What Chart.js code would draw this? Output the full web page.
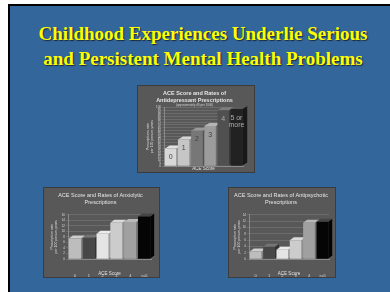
<!DOCTYPE html>
<html lang="en">
<head>
  <meta charset="UTF-8">
  <title>Childhood Experiences Underlie Serious and Persistent Mental Health Problems</title>
  <script src="https://cdn.jsdelivr.net/npm/chart.js"></script>
  <style>
    html, body { margin: 0; padding: 0; }
    body {
      width: 390px; height: 292px; overflow: hidden;
      background: #fff;
      position: relative;
      font-family: "Liberation Sans", Arial, sans-serif;
    }
    /* slide with dark frame */
    #slide {
      position: absolute; left: 8px; top: 4px; right: 0; bottom: 0;
      background: #33669a;
      border-left: 2px solid #000; border-top: 2px solid #000;
    }
    h1 {
      position: absolute; left: 8px; top: 21px; width: 390px; margin: 0;
      text-align: center;
      font-family: "Liberation Serif", "Times New Roman", serif;
      font-weight: bold; font-size: 19px; line-height: 25px;
      color: #ffff00;
      text-shadow: 1px 1px 1px #1a2a40;
    }
    .panel {
      position: absolute;
      background: #585858;
      border: 1px solid #3c3c3c;
      box-sizing: border-box;
    }
  </style>
</head>
<body>
  <div id="slide"></div>
  <h1>Childhood Experiences Underlie Serious<br>and Persistent Mental Health Problems</h1>

  <div class="panel" style="left:137px; top:85px; width:118px; height:88px;"><canvas id="c1"></canvas></div>
  <div class="panel" style="left:43px; top:187px; width:117px; height:91px;"><canvas id="c2"></canvas></div>
  <div class="panel" style="left:228px; top:187px; width:108px; height:91px;"><canvas id="c3"></canvas></div>

  <script>
    // ACE score categories
    const aceScores = ['0', '1', '2', '3', '4', '>=5'];
    const barLabels = ['0', '1', '2', '3', '4', ['5 or', 'more']];

    // prescription rates
    const antidepressant = [30, 45, 60, 68, 95, 97];
    const anxiolytic = [7.4, 7.7, 9.1, 13.1, 13.4, 15.4];
    const antipsychotic = [2.4, 3.9, 2.9, 5.9, 11.5, 11.8];

    // gray shades of the bars
    const colorsTop = ['#d8d8d8', '#c6c6c6', '#777777', '#9c9c9c', '#505050', '#222222'];
    const colorsBottom = ['#bdbdbd', '#474747', '#e4e4e4', '#cccccc', '#a0a0a0', '#050505'];

    // lighten / darken a hex colour
    function shade(hex, f) {
      const n = parseInt(hex.slice(1), 16);
      let r = (n >> 16) & 255, g = (n >> 8) & 255, b = n & 255;
      if (f > 1) {
        r = r + (255 - r) * (f - 1); g = g + (255 - g) * (f - 1); b = b + (255 - b) * (f - 1);
      } else {
        r *= f; g *= f; b *= f;
      }
      return 'rgb(' + Math.round(r) + ',' + Math.round(g) + ',' + Math.round(b) + ')';
    }

    // top and side faces drawn before the fronts, so the next bar covers the side
    const bar3d = {
      id: 'bar3d',
      beforeDatasetsDraw(chart, args, opts) {
        const ctx = chart.ctx;
        const dx = opts.dx, dy = opts.dy;
        const cols = chart.data.datasets[0].backgroundColor;
        const a = chart.chartArea;
        ctx.save();
        // floor
        ctx.fillStyle = '#6a6a6a';
        ctx.beginPath();
        ctx.moveTo(a.left, a.bottom); ctx.lineTo(a.left + dx, a.bottom - dy);
        ctx.lineTo(a.right + dx, a.bottom - dy); ctx.lineTo(a.right, a.bottom);
        ctx.closePath(); ctx.fill();
        chart.getDatasetMeta(0).data.forEach((bar, i) => {
          const p = bar.getProps(['x', 'y', 'base', 'width'], true);
          const l = p.x - p.width / 2, r = p.x + p.width / 2;
          ctx.fillStyle = shade(cols[i], 0.7);
          ctx.beginPath();
          ctx.moveTo(r, p.y); ctx.lineTo(r + dx, p.y - dy);
          ctx.lineTo(r + dx, p.base - dy); ctx.lineTo(r, p.base);
          ctx.closePath(); ctx.fill();
          ctx.fillStyle = shade(cols[i], 1.25);
          ctx.beginPath();
          ctx.moveTo(l, p.y); ctx.lineTo(l + dx, p.y - dy);
          ctx.lineTo(r + dx, p.y - dy); ctx.lineTo(r, p.y);
          ctx.closePath(); ctx.fill();
        });
        ctx.restore();
      },
      afterDatasetsDraw(chart, args, opts) {
        if (!opts.labels) return;
        const ctx = chart.ctx;
        ctx.save();
        ctx.font = '7px "Liberation Sans", Arial, sans-serif';
        ctx.textAlign = 'center';
        ctx.textBaseline = 'top';
        chart.getDatasetMeta(0).data.forEach((bar, i) => {
          const p = bar.getProps(['x', 'y'], true);
          ctx.fillStyle = i >= 4 ? '#aaaaaa' : '#444444';
          const lines = [].concat(opts.labels[i]);
          lines.forEach((t, k) => ctx.fillText(t, p.x, p.y + 5 + k * 7));
        });
        ctx.restore();
      }
    };

    function makeChart(id, values, colors, cfg) {
      return new Chart(document.getElementById(id), {
        type: 'bar',
        data: {
          labels: aceScores,
          datasets: [{
            data: values,
            backgroundColor: colors,
            borderWidth: 0,
            categoryPercentage: 1,
            barPercentage: 0.88
          }]
        },
        options: {
          responsive: true,
          maintainAspectRatio: false,
          animation: false,
          events: [],
          layout: { padding: cfg.padding },
          plugins: {
            legend: { display: false },
            tooltip: { enabled: false },
            title: {
              display: true,
              text: cfg.title,
              color: '#e6e6e6',
              font: { size: 5.5, weight: cfg.bold ? 'bold' : 'normal', lineHeight: 1.25 },
              padding: { top: 0, bottom: cfg.titleGap }
            },
            subtitle: {
              display: !!cfg.subtitle,
              text: cfg.subtitle || '',
              color: '#d0d0d0',
              font: { size: 3 },
              padding: { top: 0, bottom: 0 }
            },
            bar3d: { dx: cfg.dx, dy: cfg.dy, labels: cfg.barLabels }
          },
          scales: {
            x: {
              afterFit: s => { s.height = cfg.xH; },
              grid: { display: false },
              border: { color: '#8a8a8a' },
              ticks: {
                display: cfg.xTicks,
                maxRotation: 0, minRotation: 0,
                color: '#dcdcdc',
                font: { size: 4 },
                padding: 6
              },
              title: {
                display: true, text: 'ACE Score', color: '#e0e0e0',
                font: { size: 4.5 }, padding: { top: 0, bottom: 1 }
              }
            },
            y: {
              afterFit: s => { s.width = cfg.yW; },
              min: 0, max: cfg.max,
              grid: { color: '#7a7a7a', lineWidth: 0.6, tickLength: 2 },
              border: { color: '#8a8a8a' },
              ticks: {
                stepSize: cfg.step, autoSkip: false,
                color: '#dcdcdc', font: { size: 3 }, padding: 1
              },
              title: {
                display: true, text: cfg.yTitle, color: '#dcdcdc',
                font: { size: 3.5, lineHeight: 1.1 }, padding: 0
              }
            }
          }
        },
        plugins: [bar3d]
      });
    }

    makeChart('c1', antidepressant, colorsTop, {
      title: ['ACE Score and Rates of', 'Antidepressant Prescriptions'],
      subtitle: '(approximately 46 per 1000)',
      bold: true, titleGap: 0,
      max: 100, step: 5,
      yTitle: ['Prescriptions rate', 'per 100 person-years'],
      xTicks: false, barLabels: barLabels,
      xH: 6, yW: 18,
      dx: 5, dy: 3,
      padding: { left: 8, right: 11, top: 4, bottom: 0 }
    });

    makeChart('c2', anxiolytic, colorsBottom, {
      title: ['ACE Score and Rates of Anxiolytic', 'Prescriptions'],
      bold: false, titleGap: 9,
      max: 16, step: 2,
      yTitle: ['Prescription rate', 'per 100 person-years'],
      xTicks: true, barLabels: null,
      xH: 18, yW: 18,
      dx: 4, dy: 3,
      padding: { left: 6, right: 8, top: 4, bottom: 0 }
    });

    makeChart('c3', antipsychotic, colorsBottom, {
      title: ['ACE Score and Rates of Antipsychotic', 'Prescriptions'],
      bold: false, titleGap: 9,
      max: 14, step: 2,
      yTitle: ['Prescription rate', 'per 100 person-years'],
      xTicks: true, barLabels: null,
      xH: 18, yW: 16,
      dx: 4, dy: 3,
      padding: { left: 4, right: 6, top: 4, bottom: 0 }
    });
  </script>
</body>
</html>
